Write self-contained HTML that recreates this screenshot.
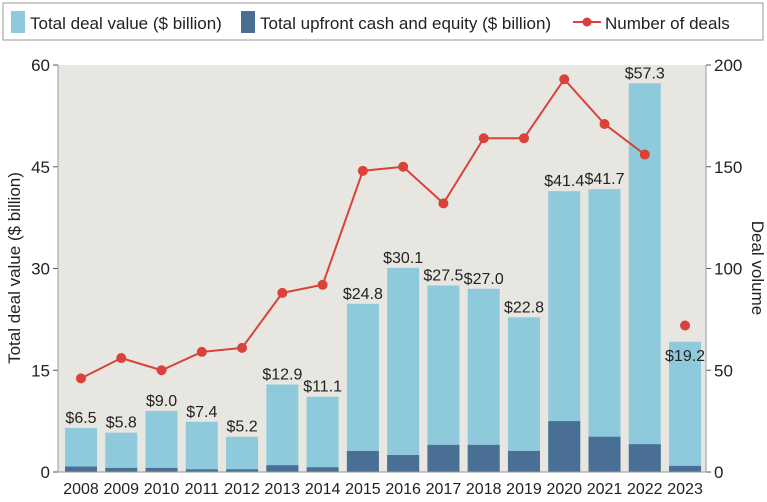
<!DOCTYPE html>
<html><head><meta charset="utf-8"><style>
body{margin:0;background:#fff;font-family:"Liberation Sans",sans-serif}
svg text{font-family:"Liberation Sans",sans-serif;fill:#222}
</style></head><body>
<svg id="c" width="767" height="497">
<rect x="3" y="3" width="760" height="37" fill="#fff" stroke="#999"/>
<rect x="11" y="11" width="14" height="22" fill="#8ecadb"/>
<text x="30" y="29" font-size="17">Total deal value ($ billion)</text>
<rect x="241" y="11" width="14" height="22" fill="#4a6f95"/>
<text x="260" y="29" font-size="17">Total upfront cash and equity ($ billion)</text>
<line x1="573" y1="22" x2="601" y2="22" stroke="#d9413a" stroke-width="2"/>
<circle cx="587" cy="22" r="4.5" fill="#d9413a"/>
<text x="605" y="29" font-size="17">Number of deals</text>
<rect x="58" y="65" width="648" height="407" fill="#e8e6e0"/>
<g id="g"></g>
<text transform="translate(20,268) rotate(-90)" text-anchor="middle" font-size="17">Total deal value ($ billion)</text>
<text transform="translate(752,268) rotate(90)" text-anchor="middle" font-size="17">Deal volume</text>
</svg>
<script>
const years=["2008","2009","2010","2011","2012","2013","2014","2015","2016","2017","2018","2019","2020","2021","2022","2023"];
const totalValue=[6.5,5.8,9.0,7.4,5.2,12.9,11.1,24.8,30.1,27.5,27.0,22.8,41.4,41.7,57.3,19.2];
const upfront=[0.8,0.6,0.6,0.4,0.4,1.0,0.7,3.1,2.5,4.0,4.0,3.1,7.5,5.2,4.1,0.9];
const deals=[46,56,50,59,61,88,92,148,150,132,164,164,193,171,156,72];
const leftTicks=[0,15,30,45,60];
const rightTicks=[0,50,100,150,200];
const NS="http://www.w3.org/2000/svg",g=document.getElementById('g');
const T=65,B=472,L=58,R=706;
const yL=v=>B-v/60*(B-T), yR=v=>B-v/200*(B-T), xC=i=>81+i*40.27;
function mk(t,a){const e=document.createElementNS(NS,t);for(const k in a)e.setAttribute(k,a[k]);g.appendChild(e);return e;}
leftTicks.forEach(v=>{const y=yL(v);
 mk('line',{x1:L-5,y1:y,x2:L,y2:y,stroke:'#555'});
 const t=mk('text',{x:L-8,y:y+6,'text-anchor':'end','font-size':17});t.textContent=v;
 
 });
rightTicks.forEach(v=>{const y=yR(v);
 mk('line',{x1:R,y1:y,x2:R+5,y2:y,stroke:'#555'});
 const t=mk('text',{x:R+8,y:y+6,'font-size':17});t.textContent=v;
 
 });
years.forEach((yr,i)=>{const x=xC(i);
 const b=mk('rect',{x:x-16,y:yL(totalValue[i]),width:32,height:B-yL(totalValue[i]),fill:'#8ecadb'});
 
 
 const u=mk('rect',{x:x-16,y:yL(upfront[i]),width:32,height:B-yL(upfront[i]),fill:'#4a6f95'});
 
 
 const lb=mk('text',{x:x,y:yL(totalValue[i])-5,'text-anchor':'middle','font-size':16});lb.textContent='$'+totalValue[i].toFixed(1);
 if(i===15){lb.setAttribute('y',yL(totalValue[i])+19);}
 
 
 const xt=mk('text',{x:x,y:B+22,'text-anchor':'middle','font-size':16});xt.textContent=yr;
 
 });
mk('line',{x1:L,y1:T,x2:L,y2:B,stroke:'#999'});
mk('line',{x1:R,y1:T,x2:R,y2:B,stroke:'#999'});
mk('line',{x1:L,y1:B,x2:R,y2:B,stroke:'#999'});
const pts=deals.slice(0,15).map((d,i)=>xC(i)+','+yR(d)).join(' ');
const pl=mk('polyline',{points:pts,fill:'none',stroke:'#d9413a','stroke-width':2});


deals.forEach((d,i)=>{const c=mk('circle',{cx:xC(i),cy:yR(d),r:5,fill:'#d9413a'});
 
 });
</script>
</body></html>
